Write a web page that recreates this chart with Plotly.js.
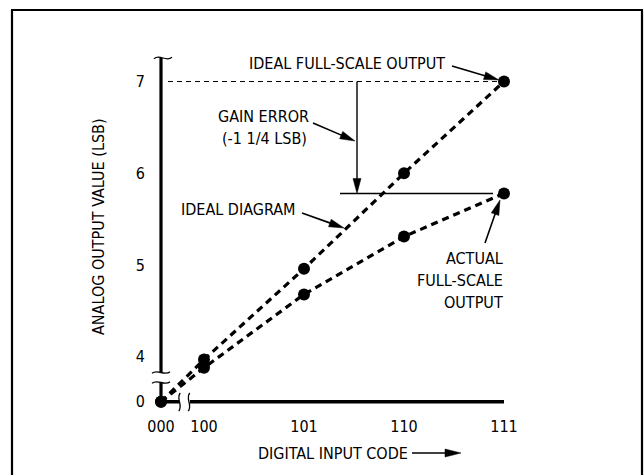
<!DOCTYPE html>
<html><head><meta charset="utf-8">
<script src="https://cdn.plot.ly/plotly-3.0.1.min.js"></script>
<style>html,body{margin:0;padding:0;background:#fff}</style>
</head><body><div id="chart" style="width:644px;height:475px"></div>
<script>
// ---- data ----
const codes = ['000', '100', '101', '110', '111'];
const codeDecimal = [0, 4, 5, 6, 7];
const idealLSB = [0, 3.97, 4.96, 6.0, 7.0];
const actualLSB = [0, 3.88, 4.68, 5.31, 5.78];
const yTickValues = [0, 4, 5, 6, 7];
const yTickLabels = ['0', '4', '5', '6', '7'];

// ---- layout geometry ----
const W = 644, H = 475, M = {l: 150, r: 84, t: 54, b: 65};
const XR = [3.46, 7.56], YR = [3.42, 7.30];
const X_BREAK = 3.57, Y_BREAK = 3.51;          // where "000"/"0" sit on the broken axes
const xDisp = v => v >= 1 ? v : X_BREAK;
const yDisp = v => v >= 1 ? v : Y_BREAK;
const PW = W - M.l - M.r, PH = H - M.t - M.b;
const pxX = v => M.l + (v - XR[0]) / (XR[1] - XR[0]) * PW;   // data -> pixel
const pxY = v => M.t + (YR[1] - v) / (YR[1] - YR[0]) * PH;
const fx = p => (p - M.l) / PW;                                // pixel -> paper
const fy = p => (H - M.b - p) / PH;

const FONT = 'DejaVu Sans Condensed, Liberation Sans Narrow, sans-serif';
const shapes = [];
const annotations = [];

function pline(x1, y1, x2, y2, w, dash) {
  shapes.push({type: 'line', xref: 'paper', yref: 'paper', x0: fx(x1), y0: fy(y1), x1: fx(x2), y1: fy(y2),
    line: {color: '#000', width: w, dash: dash || 'solid'}});
}
function arrow(x1, y1, x2, y2, w, len, half) {
  const dx = x2 - x1, dy = y2 - y1, L = Math.hypot(dx, dy), ux = dx / L, uy = dy / L;
  const bx = x2 - ux * len, by = y2 - uy * len;
  pline(x1, y1, bx + ux * 2, by + uy * 2, w);
  const p1 = [bx - uy * half, by + ux * half], p2 = [bx + uy * half, by - ux * half];
  shapes.push({type: 'path', xref: 'paper', yref: 'paper',
    path: `M${fx(x2)},${fy(y2)} L${fx(p1[0])},${fy(p1[1])} L${fx(p2[0])},${fy(p2[1])} Z`,
    fillcolor: '#000', line: {color: '#000', width: 0.5}});
}
function tildeH(cx, cy, hw, amp) {   // horizontal "~"
  shapes.push({type: 'path', xref: 'paper', yref: 'paper',
    path: `M${fx(cx - hw)},${fy(cy + amp * 0.3)} C${fx(cx - hw * 0.4)},${fy(cy - amp * 1.6)} ${fx(cx + hw * 0.4)},${fy(cy + amp * 1.6)} ${fx(cx + hw)},${fy(cy - amp * 0.3)}`,
    line: {color: '#000', width: 1.3}});
}
function tildeV(cx, cy, hh, amp) {   // vertical "~"
  shapes.push({type: 'path', xref: 'paper', yref: 'paper',
    path: `M${fx(cx + amp * 0.3)},${fy(cy - hh)} C${fx(cx - amp * 1.6)},${fy(cy - hh * 0.4)} ${fx(cx + amp * 1.6)},${fy(cy + hh * 0.4)} ${fx(cx - amp * 0.3)},${fy(cy + hh)}`,
    line: {color: '#000', width: 1.3}});
}
function rectWhite(x1, y1, x2, y2) {
  shapes.push({type: 'rect', xref: 'paper', yref: 'paper', x0: fx(x1), y0: fy(y1), x1: fx(x2), y1: fy(y2),
    fillcolor: '#fff', line: {width: 0}});
}
function text(t, x, y, xanchor, angle) {
  annotations.push({text: t, xref: 'paper', yref: 'paper', x: fx(x), y: fy(y), xanchor: xanchor || 'center',
    yanchor: 'middle', showarrow: false, textangle: angle || 0, font: {family: FONT, size: 16, color: '#000'}});
}

// frame
pline(12, 10, 12, 480, 2.2);
pline(11, 10, 643, 10, 2.2);
pline(642, 10, 642, 480, 2.2);

// axes (drawn from the code/LSB positions)
const x0 = pxX(xDisp(codeDecimal[0])), y0 = pxY(yDisp(0)), xEnd = pxX(codeDecimal[codeDecimal.length - 1]);
pline(x0, 58, x0, y0, 3.2);
pline(x0, y0, xEnd, y0, 3.4);
tildeH(x0 + 2, 58, 9, 3);
// axis breaks
rectWhite(x0 - 10, 372, x0 + 10, 383);
tildeH(x0, 372.5, 9, 2.5);
tildeH(x0, 382.5, 9, 2.5);
rectWhite(x0 + 18, 391, x0 + 29, 412);
tildeV(x0 + 18.5, 402, 9, 2.5);
tildeV(x0 + 28, 402, 9, 2.5);

// ideal full-scale dashed reference
const yIdealFS = pxY(idealLSB[4]), yActFS = pxY(actualLSB[4]);
pline(168, yIdealFS, pxX(codeDecimal[4]), yIdealFS, 1, '5px,4px');
// gain error arrow and level
const xGain = 357;
arrow(xGain, yIdealFS, xGain, yActFS, 1.4, 15, 4);
pline(340, yActFS, 493, yActFS, 1.4);

// labels + pointer arrows
text('IDEAL FULL-SCALE OUTPUT', 347, 64);
arrow(452, 66, 499, 80, 1.6, 15, 4);
text('GAIN ERROR', 263, 116);
text('(-1 1/4 LSB)', 264.5, 138);
arrow(313, 123, 355, 141, 1.6, 15, 4);
text('IDEAL DIAGRAM', 238, 209);
arrow(302, 213, 344, 228, 1.6, 15, 4);
text('ACTUAL', 505, 258, 'right');
text('FULL-SCALE', 505, 280, 'right');
text('OUTPUT', 505, 302, 'right');
arrow(485, 243, 500, 200, 1.6, 15, 4);
text('ANALOG OUTPUT VALUE (LSB)', 98, 227, 'center', -90);
text('DIGITAL INPUT CODE', 333, 453);
arrow(412, 453, 461, 453, 1.6, 16, 4);

const lineStyle = {color: '#000', width: 3.2, dash: '7px,5px'};
const markerStyle = {color: '#000', size: 12};
const traces = [
  {name: 'Ideal', x: codeDecimal.map(xDisp), y: idealLSB.map(yDisp), mode: 'lines+markers',
   line: lineStyle, marker: markerStyle, cliponaxis: false},
  {name: 'Actual', x: codeDecimal.map(xDisp), y: actualLSB.map(yDisp), mode: 'lines+markers',
   line: lineStyle, marker: markerStyle, cliponaxis: false}
];

const layout = {
  width: W, height: H, margin: M, showlegend: false,
  paper_bgcolor: '#fff', plot_bgcolor: '#fff',
  font: {family: FONT, size: 16, color: '#000'},
  xaxis: {range: XR, tickvals: codeDecimal.map(xDisp), ticktext: codes, showgrid: false, zeroline: false,
          showline: false, ticks: '', ticklabelstandoff: 5, tickfont: {family: FONT, size: 16}},
  yaxis: {range: YR, tickvals: yTickValues.map(yDisp), ticktext: yTickLabels, showgrid: false, zeroline: false,
          showline: false, ticks: '', ticklabelstandoff: 4, tickfont: {family: FONT, size: 16}},
  shapes: shapes, annotations: annotations
};
Plotly.newPlot('chart', traces, layout, {displayModeBar: false, staticPlot: true});
</script></body></html>
